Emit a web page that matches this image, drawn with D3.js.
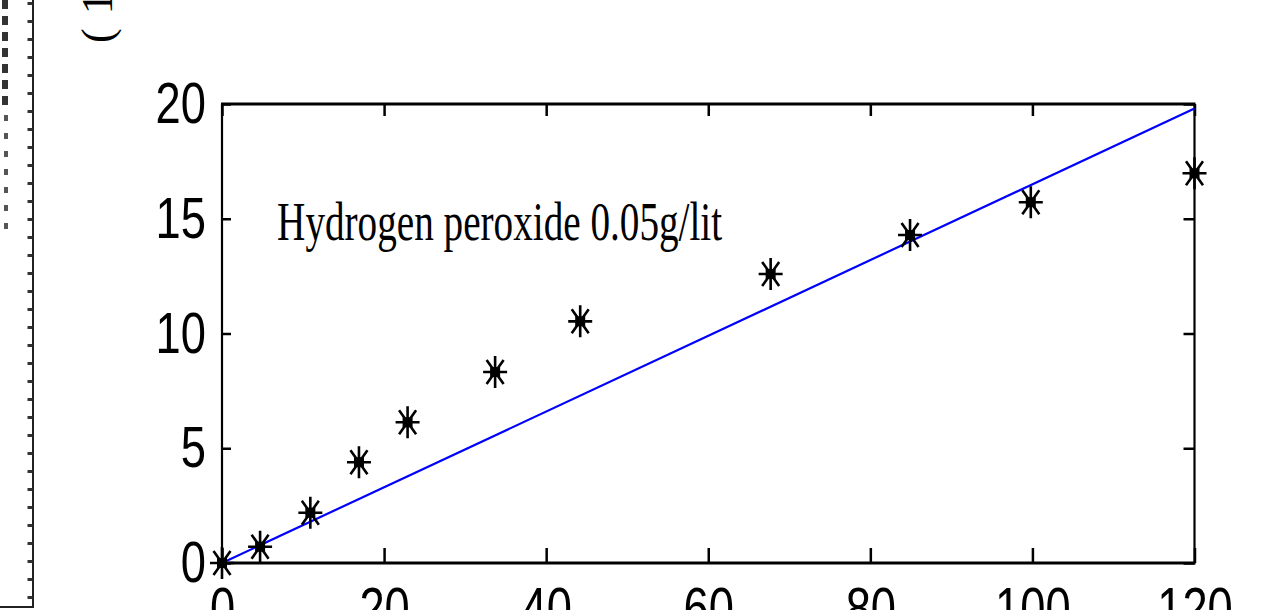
<!DOCTYPE html>
<html lang="en">
<head>
<meta charset="UTF-8">
<title>Hydrogen peroxide 0.05g/lit</title>
<script src="https://cdn.jsdelivr.net/npm/d3@7"></script>
<style>
  body { margin: 0; padding: 0; background: #fff; overflow: hidden; }
  svg { display: block; }
  .tick text { font-family: "Liberation Sans", Arial, sans-serif; fill: #000; }
</style>
</head>
<body>
<div id="chart"></div>
<script>
// measured points (asterisks)
const timeValues = [0, 4.7, 10.9, 16.9, 22.9, 33.7, 44.2, 67.7, 84.9, 99.8, 120];
const yValues = [0, 0.71, 2.19, 4.39, 6.13, 8.32, 10.53, 12.59, 14.29, 15.72, 16.98];

// fitted line
const fitX = [0, 120];
const fitY = [0, 19.8];

const xTicks = [0, 20, 40, 60, 80, 100, 120];
const yTicks = [0, 5, 10, 15, 20];
const label = "Hydrogen peroxide 0.05g/lit";

const width = 1265;
const height = 610;

const svg = d3.select('#chart')
  .append('svg')
  .attr('width', width)
  .attr('height', height);

const x = d3.scaleLinear().domain([0, 120]).range([222, 1194.5]);
const y = d3.scaleLinear().domain([0, 20]).range([563, 104]);

// bits of the neighbouring figure cut off at the left edge
const left = svg.append('g');
left.append('line')
  .attr('x1', 33).attr('x2', 33).attr('y1', 0).attr('y2', 608)
  .attr('stroke', '#222').attr('stroke-width', 2);
left.append('line')
  .attr('x1', 30).attr('x2', 30).attr('y1', 2).attr('y2', 600)
  .attr('stroke', '#333').attr('stroke-width', 5)
  .attr('stroke-dasharray', '3 15');
left.append('line')
  .attr('x1', 0).attr('x2', 33).attr('y1', 607).attr('y2', 607)
  .attr('stroke', '#222').attr('stroke-width', 2);
left.append('line')
  .attr('x1', 5).attr('x2', 5).attr('y1', 0).attr('y2', 110)
  .attr('stroke', '#333').attr('stroke-width', 6)
  .attr('stroke-dasharray', '9 7');
left.append('line')
  .attr('x1', 6).attr('x2', 6).attr('y1', 115).attr('y2', 230)
  .attr('stroke', '#555').attr('stroke-width', 4)
  .attr('stroke-dasharray', '6 12');

// rotated y label, mostly outside the picture
svg.append('text')
  .attr('transform', 'translate(112,43) rotate(-90)')
  .attr('font-family', '"Liberation Serif", "Times New Roman", serif')
  .attr('font-size', 44)
  .text('(')
  .append('tspan')
  .attr('dx', 14)
  .text('1/min)');

// axes, ticks pointing inwards
const fitLabels = sel => sel.selectAll('text')
  .attr('font-size', 58)
  .attr('textLength', d => String(d).length * 25.2)
  .attr('lengthAdjust', 'spacingAndGlyphs');

const gx = svg.append('g')
  .attr('transform', `translate(0,${y(0)})`)
  .call(d3.axisBottom(x).tickValues(xTicks).tickSizeInner(-15).tickSizeOuter(0).tickPadding(24));
gx.call(fitLabels);

const gy = svg.append('g')
  .attr('transform', `translate(${x(0)},0)`)
  .call(d3.axisLeft(y).tickValues(yTicks).tickSizeInner(-9).tickSizeOuter(0).tickPadding(16));
gy.call(fitLabels);

svg.append('g')
  .attr('transform', `translate(0,${y(20)})`)
  .call(d3.axisTop(x).tickValues(xTicks).tickSizeInner(-12).tickSizeOuter(0).tickFormat(''));

svg.append('g')
  .attr('transform', `translate(${x(120)},0)`)
  .call(d3.axisRight(y).tickValues(yTicks).tickSizeInner(-11).tickSizeOuter(0).tickFormat(''));

svg.selectAll('.domain').remove();
svg.selectAll('.tick line').attr('stroke', '#000').attr('stroke-width', 2.5);

// frame
const frame = svg.append('g').attr('stroke', '#000');
frame.append('line')
  .attr('x1', x(0) - 1).attr('x2', x(120) + 1).attr('y1', y(20)).attr('y2', y(20))
  .attr('stroke-width', 3.2);
frame.append('line')
  .attr('x1', x(0) - 1).attr('x2', x(120) + 1).attr('y1', y(0)).attr('y2', y(0))
  .attr('stroke-width', 3.2);
frame.append('line')
  .attr('x1', x(0)).attr('x2', x(0)).attr('y1', y(20)).attr('y2', y(0))
  .attr('stroke-width', 2.2);
frame.append('line')
  .attr('x1', x(120)).attr('x2', x(120)).attr('y1', y(20)).attr('y2', y(0))
  .attr('stroke-width', 2.2);

// fitted line
svg.append('path')
  .datum(d3.zip(fitX, fitY))
  .attr('fill', 'none')
  .attr('stroke', '#0000ff')
  .attr('stroke-width', 2.2)
  .attr('d', d3.line().x(d => x(d[0])).y(d => y(d[1])));

// asterisk markers
const star = 'M-12,0H12M0,-16V16M-8.5,-12L8.5,12M8.5,-12L-8.5,12';
const marks = svg.append('g')
  .selectAll('g')
  .data(d3.zip(timeValues, yValues))
  .enter().append('g')
  .attr('transform', d => `translate(${x(d[0])},${y(d[1])})`);

marks.append('path')
  .attr('d', star)
  .attr('fill', 'none')
  .attr('stroke', '#000')
  .attr('stroke-width', 2.6);

marks.append('rect')
  .attr('x', -5).attr('y', -5).attr('width', 10).attr('height', 10)
  .attr('fill', '#000');

svg.append('text')
  .attr('x', x(6.8))
  .attr('y', y(14.07))
  .attr('font-family', '"Liberation Serif", "Times New Roman", serif')
  .attr('font-size', 54)
  .attr('textLength', 445)
  .attr('lengthAdjust', 'spacingAndGlyphs')
  .text(label);
</script>
</body>
</html>
